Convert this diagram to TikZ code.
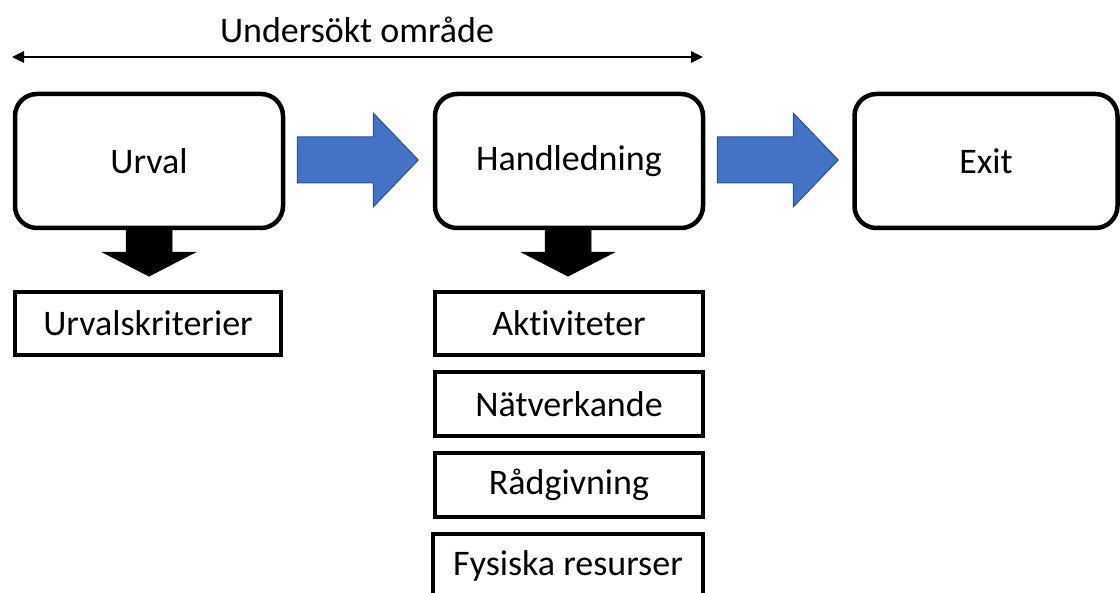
\documentclass[tikz,border=0pt]{standalone}
\usepackage{fontspec}
\setmainfont{Carlito}[Ligatures=NoCommon]
\usetikzlibrary{arrows.meta,calc}
\definecolor{arrowblue}{HTML}{4472C4}
\definecolor{arrowedge}{HTML}{2F528F}
\tikzset{
  stage/.style={draw, line width=4.5pt, rounded corners=22pt, minimum width=268pt,
    minimum height=134pt, inner sep=0pt, font=\fontsize{36}{43}\selectfont},
  itembox/.style={draw, line width=4pt, minimum width=268pt, minimum height=63pt,
    inner sep=0pt, font=\fontsize{36}{43}\selectfont},
  flowarrow/.style={fill=arrowblue, draw=arrowedge, line width=1pt, line join=miter},
  downarrow/.style={fill=black, draw=black, line width=0.5pt, line join=miter},
}
\begin{document}
\begin{tikzpicture}[x=1pt,y=-1pt]
  \useasboundingbox (0,0) rectangle (1120,593);
  \clip (0,0) rectangle (1120,593);

  % span of the studied area
  \coordinate (spanL) at (12,57);
  \coordinate (spanR) at (703,57);
  \draw[line width=2.5pt, {Triangle[length=12pt,width=11pt]}-{Triangle[length=12pt,width=11pt]}]
    (spanL) -- (spanR);
  \node[font=\fontsize{36}{43}\selectfont] (span) at (357,30) {Undersökt område};

  % main stages
  \node[stage] (urval) at (149,161) {Urval};
  \node[stage] (handl) at (569,161) {Handledning};
  \node[stage, minimum width=263pt] (exit) at (986,161) {Exit};

  % flow between stages: block arrows starting just right of each stage
  \draw[flowarrow] ($(urval.east)+(12,-1)$) ++(0,-23) -- ++(76,0) -- ++(0,-24)
    -- ++(45,47) -- ++(-45,47) -- ++(0,-24) -- ++(-76,0) -- cycle;
  \draw[flowarrow] ($(handl.east)+(12,-1)$) ++(0,-23) -- ++(76,0) -- ++(0,-24)
    -- ++(45,47) -- ++(-45,47) -- ++(0,-24) -- ++(-76,0) -- cycle;

  % detail under each stage
  \draw[downarrow] (urval.south) ++(-23,0) -- ++(46,0) -- ++(0,22) -- ++(23.5,0)
    -- ++(-46.5,24) -- ++(-46.5,-24) -- ++(23.5,0) -- cycle;
  \draw[downarrow] ($(handl.south)+(-1,0)$) ++(-23,0) -- ++(46,0) -- ++(0,22) -- ++(23.5,0)
    -- ++(-46.5,24) -- ++(-46.5,-24) -- ++(23.5,0) -- cycle;

  \node[itembox, minimum width=266pt] (krit) at (148,323.5) {Urvalskriterier};
  \node[itembox] (akt) at (569,323.5) {Aktiviteter};
  \node[itembox, minimum height=64pt] (nat) at (569,404) {Nätverkande};
  \node[itembox, minimum height=64pt] (rad) at (569,485) {Rådgivning};
  \node[itembox, minimum height=64pt, minimum width=270pt] (fys) at (568,566) {Fysiska resurser};
\end{tikzpicture}
\end{document}
